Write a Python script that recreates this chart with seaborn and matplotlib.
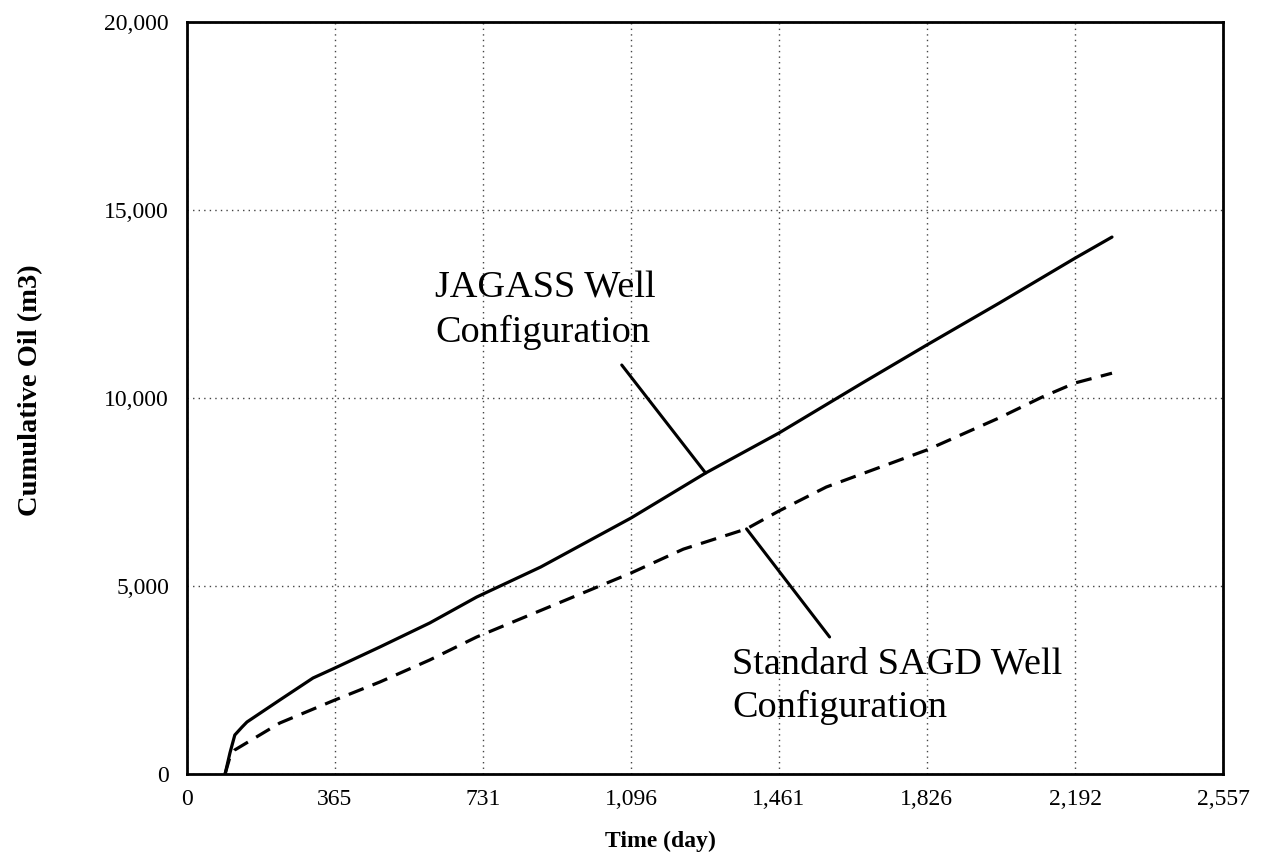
import numpy as np
import pandas as pd
import matplotlib
matplotlib.use("Agg")
import matplotlib.pyplot as plt
import seaborn as sns

# ---- data ----
jagass_day = [94, 106, 118, 136, 148, 229, 311, 365, 476, 599, 715, 873, 1096,
              1280, 1461, 1667, 1826, 2004, 2192, 2283]
jagass_oil = [0, 560, 1037, 1250, 1383, 1968, 2553, 2819, 3378, 4016, 4707, 5505,
              6809, 8005, 9069, 10400, 11410, 12520, 13720, 14280]

sagd_day = [94, 106, 118, 229, 365, 476, 599, 715, 1096, 1225, 1381, 1461, 1578,
            1826, 2004, 2111, 2192, 2283]
sagd_oil = [0, 450, 640, 1356, 1968, 2447, 3032, 3644, 5346, 5980, 6520, 6995,
            7633, 8617, 9468, 10027, 10400, 10660]

x_ticks = [0, 365, 731, 1096, 1461, 1826, 2192, 2557]
x_tick_labels = ["0", "365", "731", "1,096", "1,461", "1,826", "2,192", "2,557"]
y_ticks = [0, 5000, 10000, 15000, 20000]
y_tick_labels = ["0", "5,000", "10,000", "15,000", "20,000"]

label_jagass = ["JAGASS Well", "Configuration"]
label_sagd = ["Standard SAGD Well", "Configuration"]
x_label = "Time (day)"
y_label = "Cumulative Oil (m3)"

df_j = pd.DataFrame({"day": jagass_day, "oil": jagass_oil})
df_s = pd.DataFrame({"day": sagd_day, "oil": sagd_oil})

sns.set_style("white")
plt.rcParams["font.family"] = ["Liberation Serif", "DejaVu Serif"]
plt.rcParams["text.color"] = "black"
plt.rcParams["axes.labelcolor"] = "black"
plt.rcParams["xtick.color"] = "black"
plt.rcParams["ytick.color"] = "black"

fig = plt.figure(figsize=(12.85, 8.58), dpi=100)
ax = fig.add_axes([187 / 1285, 1 - 774 / 858, (1223 - 187) / 1285, (774 - 22) / 858])

sns.lineplot(data=df_j, x="day", y="oil", ax=ax, color="black", linewidth=2.3,
             estimator=None, sort=False)
sns.lineplot(data=df_s, x="day", y="oil", ax=ax, color="black", linewidth=2.3,
             estimator=None, sort=False, linestyle=(0, (5, 3)))

ax.set_xlim(0, 2557)
ax.set_ylim(0, 20000)
ax.set_xticks(x_ticks)
ax.set_xticklabels(x_tick_labels)
ax.set_yticks(y_ticks)
ax.set_yticklabels(y_tick_labels)

ax.tick_params(axis="both", direction="in", length=6, width=1.5, colors="black",
               labelsize=17)
ax.tick_params(axis="x", pad=11)
ax.tick_params(axis="y", pad=13)

ax.grid(True, linestyle=(0, (1, 3)), color="#444444", linewidth=1.0)
for s in ax.spines.values():
    s.set_visible(True)
    s.set_color("black")
    s.set_linewidth(2.0)

ax.set_xlabel(x_label, fontsize=17, fontweight="bold")
ax.set_ylabel(y_label, fontsize=20.5, fontweight="bold")
ax.xaxis.set_label_coords(0.457, -0.075)
ax.yaxis.set_label_coords(-0.139, 0.51)

# annotations (text + leader lines)
ax.text(612, 12686, label_jagass[0], fontsize=27.5, ha="left", va="baseline", color="black")
ax.text(612, 11489, label_jagass[1], fontsize=27.5, ha="left", va="baseline", color="black")
ax.plot([1073, 1280], [10878, 8005], color="black", linewidth=2.2)

ax.text(1346, 2686, label_sagd[0], fontsize=27.5, ha="left", va="baseline", color="black")
ax.text(1346, 1516, label_sagd[1], fontsize=27.5, ha="left", va="baseline", color="black")
ax.plot([1381, 1586], [6520, 3644], color="black", linewidth=2.2)

fig.savefig("out.png", dpi=100, facecolor="white")
